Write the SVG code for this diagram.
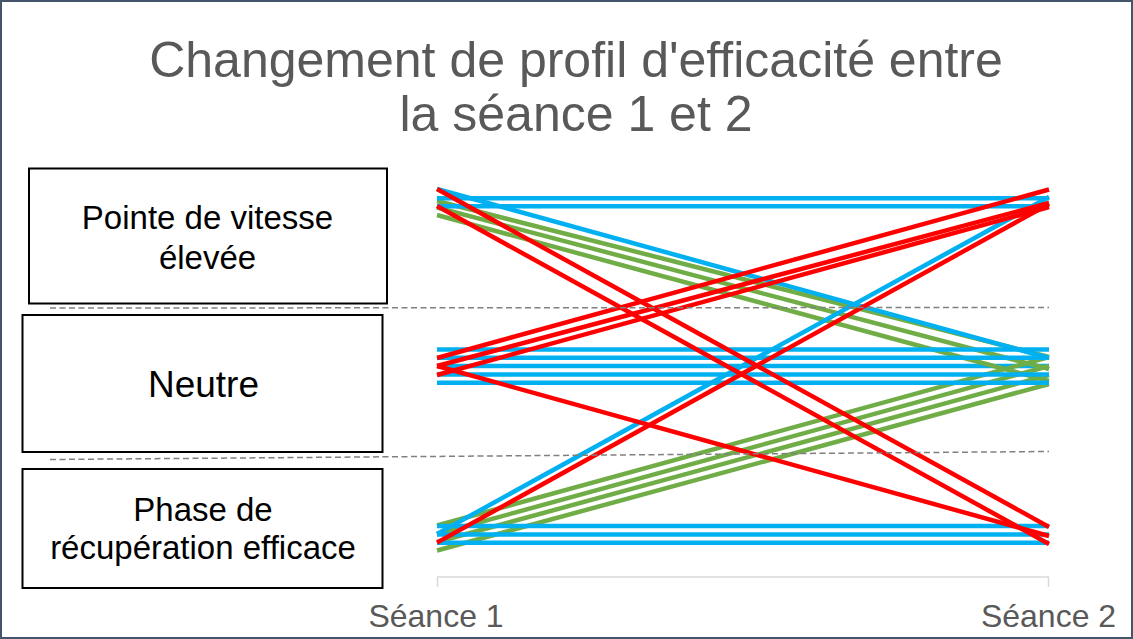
<svg xmlns="http://www.w3.org/2000/svg" width="1133" height="639" viewBox="0 0 1133 639">
<style>
.bx{fill:#fff;stroke:#000;stroke-width:2}
.lbl{font-family:"Liberation Sans",Arial,sans-serif;fill:#000;text-anchor:middle}
.ttl{font-family:"Liberation Sans",Arial,sans-serif;fill:#595959;text-anchor:middle;font-size:50px}
.ax{font-family:"Liberation Sans",Arial,sans-serif;fill:#595959;text-anchor:middle;font-size:32px}
.b{stroke:#00B0F0;stroke-width:4.5;fill:none}
.g{stroke:#70AD47;stroke-width:4.5;fill:none}
.r{stroke:#FF0000;stroke-width:4.5;fill:none}
.d{stroke:#808080;stroke-width:1.5;stroke-dasharray:6 3.5;fill:none}
</style>
<rect x="0" y="0" width="1133" height="639" fill="#fff"/>
<g id="title">
<text class="ttl" x="576" y="77">Changement de profil d'efficacité entre</text>
<text class="ttl" x="576" y="131">la séance 1 et 2</text>
</g>
<g id="node-pointe">
<rect class="bx" x="29" y="168.5" width="358" height="135"/>
<text class="lbl" x="207.5" y="229" font-size="33">Pointe de vitesse</text>
<text class="lbl" x="207.5" y="269" font-size="33">élevée</text>
</g>
<g id="node-neutre">
<rect class="bx" x="22.5" y="315" width="360" height="137"/>
<text class="lbl" x="203.5" y="397" font-size="37">Neutre</text>
</g>
<g id="node-phase">
<rect class="bx" x="22.5" y="469" width="360" height="119"/>
<text class="lbl" x="203" y="521" font-size="33">Phase de</text>
<text class="lbl" x="203" y="559" font-size="33">récupération efficace</text>
</g>
<g id="axis">
<line x1="437" y1="577" x2="1049" y2="577" stroke="#d9d9d9" stroke-width="1.5"/>
<line x1="437.5" y1="577" x2="437.5" y2="587" stroke="#d9d9d9" stroke-width="1.5"/>
<line x1="1048.5" y1="577" x2="1048.5" y2="587" stroke="#d9d9d9" stroke-width="1.5"/>
<text class="ax" x="436" y="626.5">Séance 1</text>
<text class="ax" x="1048.5" y="626.5">Séance 2</text>
</g>
<g id="connectors">
<line class="b" x1="437" y1="366.1" x2="1049" y2="366.1"/>
<line class="g" x1="437" y1="201" x2="1049" y2="357"/>
<line class="g" x1="437" y1="207.5" x2="1049" y2="369"/>
<line class="g" x1="437" y1="215" x2="1049" y2="381"/>
<line class="g" x1="437" y1="525.5" x2="1049" y2="357"/>
<line class="g" x1="437" y1="534" x2="1049" y2="366"/>
<line class="g" x1="437" y1="542" x2="1049" y2="375"/>
<line class="g" x1="437" y1="550.5" x2="1049" y2="384"/>
<line class="b" x1="437" y1="198.3" x2="1049" y2="198.3"/>
<line class="b" x1="437" y1="206.3" x2="1049" y2="206.3"/>
<line class="b" x1="437" y1="189" x2="1049" y2="358"/>
<line class="b" x1="437" y1="349.5" x2="1049" y2="349.5"/>
<line class="b" x1="437" y1="357.8" x2="1049" y2="357.8"/>
<line class="b" x1="437" y1="374.4" x2="1049" y2="374.4"/>
<line class="b" x1="437" y1="382.7" x2="1049" y2="382.7"/>
<line class="b" x1="437" y1="526" x2="1049" y2="526"/>
<line class="b" x1="437" y1="534.5" x2="1049" y2="534.5"/>
<line class="b" x1="437" y1="542.8" x2="1049" y2="542.8"/>
<line class="b" x1="437" y1="534" x2="1049" y2="197"/>
<line class="r" x1="437" y1="189" x2="1049" y2="527"/>
<line class="r" x1="437" y1="206" x2="1049" y2="544"/>
<line class="r" x1="437" y1="358" x2="1049" y2="189.5"/>
<line class="r" x1="437" y1="366" x2="1049" y2="203"/>
<line class="r" x1="437" y1="375" x2="1049" y2="207"/>
<line class="r" x1="437" y1="366" x2="1049" y2="536"/>
<line class="r" x1="437" y1="542.6" x2="1049" y2="204"/>
<line class="d" x1="50" y1="308" x2="1049" y2="307.5"/>
<line class="d" x1="50" y1="459.5" x2="1049" y2="451.5"/>
</g>
<rect x="1" y="1" width="1131" height="637" fill="none" stroke="#44546A" stroke-width="2"/>
</svg>
